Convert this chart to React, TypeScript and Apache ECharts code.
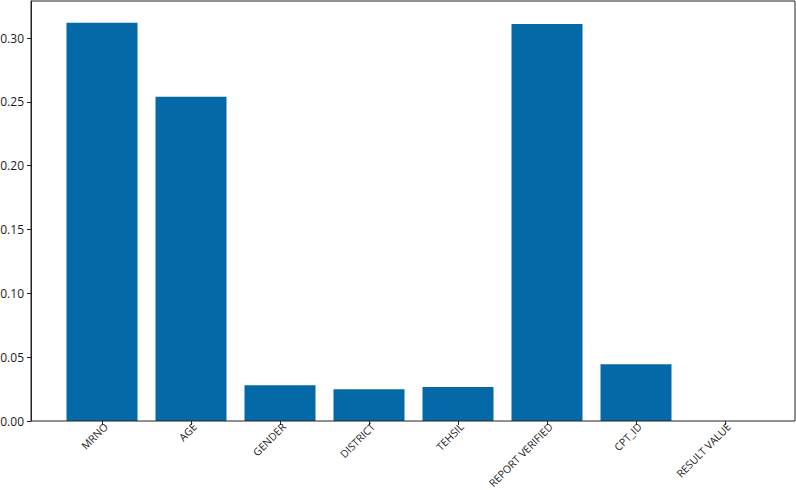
import React, { useEffect, useRef } from "react";
import * as echarts from "echarts";

const categories = [
  "MRNO",
  "AGE",
  "GENDER",
  "DISTRICT",
  "TEHSIL",
  "REPORT VERIFIED",
  "CPT_ID",
  "RESULT VALUE",
];
const importances = [0.312, 0.254, 0.028, 0.0248, 0.0266, 0.311, 0.0445, 0];
const yMin = 0;
const yMax = 0.329;
const yStep = 0.05;

export default function App() {
  const ref = useRef<HTMLDivElement>(null);
  useEffect(() => {
    if (!ref.current) return;
    const chart = echarts.init(ref.current, undefined, { renderer: "svg" });
    const font = "'Open Sans', 'Noto Sans', sans-serif";
    chart.setOption({
      animation: false,
      backgroundColor: "#fff",
      grid: [
        {
          left: 31,
          right: 1,
          top: 1,
          bottom: 69,
          show: true,
          borderColor: "#222",
          borderWidth: 1,
          backgroundColor: "rgba(0,0,0,0)",
          z: 5,
          containLabel: false,
          outerBoundsMode: "none",
        },
        {
          left: 57.5,
          right: 26.5,
          top: 1,
          bottom: 69,
          containLabel: false,
          outerBoundsMode: "none",
        },
      ],
      xAxis: [
        { type: "value", gridIndex: 0, show: false, min: 0, max: 1 },
        {
          type: "category",
          gridIndex: 1,
          data: categories,
          boundaryGap: true,
          axisLine: { show: false },
          axisTick: {
            show: true,
            alignWithLabel: true,
            length: 4,
            lineStyle: { color: "#222" },
          },
          axisLabel: {
            rotate: 45,
            interval: 0,
            margin: 0,
            verticalAlign: "top",
            color: "#1a1a1a",
            fontFamily: font,
            fontSize: 10.5,
          },
        },
      ],
      yAxis: [
        {
          type: "value",
          gridIndex: 0,
          min: yMin,
          max: yMax,
          interval: yStep,
          splitLine: { show: false },
          axisLine: { show: true, lineStyle: { color: "#222" } },
          axisTick: { show: true, length: 4, lineStyle: { color: "#222" } },
          axisLabel: {
            color: "#1a1a1a",
            fontFamily: font,
            fontSize: 12,
            margin: 7,
            showMaxLabel: false,
            formatter: (v: number) => v.toFixed(2),
          },
        },
        {
          type: "value",
          gridIndex: 1,
          min: yMin,
          max: yMax,
          show: false,
          splitLine: { show: false },
        },
      ],
      series: [
        {
          type: "bar",
          xAxisIndex: 1,
          yAxisIndex: 1,
          data: importances,
          barWidth: 71,
          itemStyle: { color: "#0569a7" },
        },
      ],
    });
    return () => chart.dispose();
  }, []);
  return (
    <div
      ref={ref}
      style={{ position: "fixed", left: 0, top: 0, width: 796, height: 490 }}
    />
  );
}
